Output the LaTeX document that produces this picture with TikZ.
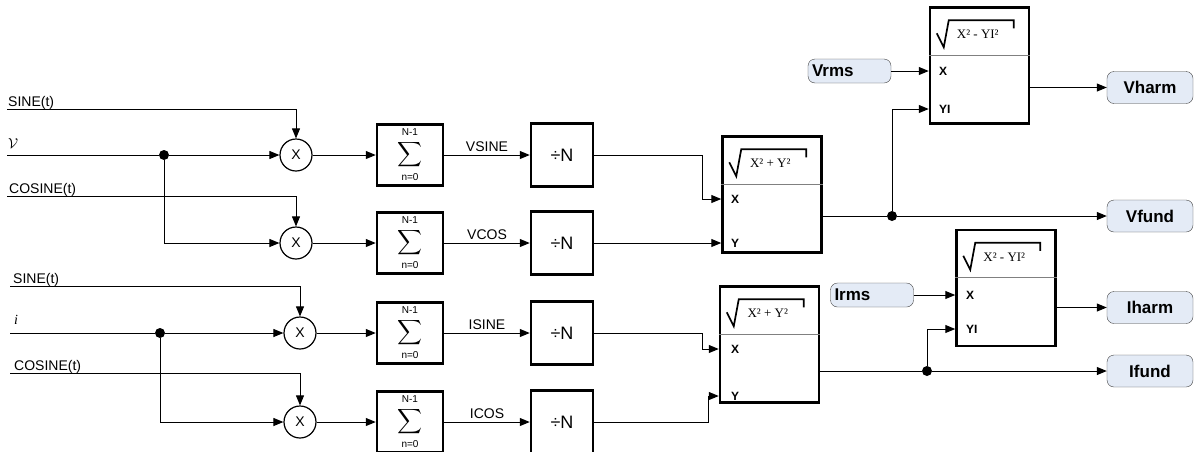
\documentclass[tikz,border=0pt]{standalone}
\usepackage{amsmath}
\usepackage{fontspec}
\setmainfont{Liberation Sans}
\newfontfamily\timesface{Liberation Serif}
\usetikzlibrary{calc, positioning, arrows.meta}
\definecolor{capfill}{HTML}{E4EBF6}
\definecolor{capline}{HTML}{404040}

% separator, radical sign and formula of a root box
\newcommand{\rootlines}[2]{%
  \draw[divider] ([yshift=-49pt]#1.north west) -- ([yshift=-49pt]#1.north east);
  \draw[radical] ($(#1.north west)+(8,27)$) -- ++(7,14) -- ++(5,-27) -- ++(65,0) -- ++(0,8);
  \node[formula] (#1f) at ($(#1.north west)+(49,28)$) {#2};}
% sum sign with its limits
\newcommand{\limtext}[1]{\text{\fontsize{10}{10}\selectfont #1}}
\newcommand{\sumsign}{$\displaystyle\sum_{\limtext{n=0}\rule{0pt}{10pt}}^{\limtext{N-1}\rule[-2.5pt]{0pt}{2.5pt}}$}

\begin{document}
\begin{tikzpicture}[x=1pt, y=-1pt,
    wire/.style={line width=1pt},
    arr/.style={wire, -{Triangle[length=10pt,width=8pt]}},
    joint/.style={circle, fill, inner sep=0pt, minimum size=10pt},
    mult/.style={circle, draw, line width=1.2pt, minimum size=32pt, inner sep=0pt, font=\fontsize{14}{14}\selectfont},
    sumbox/.style={draw, line width=2.5pt, minimum width=66pt, minimum height=61pt, inner sep=0pt, font=\fontsize{16}{16}\selectfont},
    divbox/.style={draw, line width=2.5pt, minimum width=62pt, minimum height=63pt, inner sep=0pt, font=\fontsize{18}{18}\selectfont},
    rootbox/.style={draw, line width=2.5pt, minimum width=99pt, minimum height=116pt, inner sep=0pt},
    divider/.style={line width=1.2pt, gray},
    radical/.style={line width=1.7pt},
    formula/.style={inner sep=0pt, font=\timesface\fontsize{13}{13}\selectfont},
    port/.style={anchor=west, inner sep=0pt, font=\bfseries\fontsize{12}{12}\selectfont},
    sig/.style={anchor=base west, inner sep=0pt, font=\fontsize{14}{14}\selectfont},
    wirelbl/.style={above=3pt, midway, inner sep=0pt, font=\fontsize{14}{14}\selectfont},
    outcap/.style={draw=capline, fill=capfill, rounded corners=7pt, minimum width=86pt, minimum height=32pt, font=\bfseries\fontsize{17}{17}\selectfont},
    incap/.style={draw=capline, fill=capfill, rounded corners=7pt, text width=75pt, minimum height=24pt, inner xsep=4pt, inner ysep=0pt, align=left, font=\bfseries\fontsize{17}{17}\selectfont}]
\useasboundingbox (0,0) rectangle (1195,451);

% voltage channel
\coordinate (vsin) at (7,109);
\coordinate (vin) at (7,155);
\coordinate (vcos) at (7,196);
\node[sig] (vsinlbl) at (8,106) {SINE(t)};
\node[sig] (vinlbl) at (8,148) {$\mathcal{V}$};
\node[sig] (vcoslbl) at (9,193) {COSINE(t)};
\node[joint] (vj) at (164,155) {};
\node[mult] (vm1) at (296,155) {X};
\node[mult] (vm2) at (296,243) {X};
\node[sumbox] (vs1) at (410,155) {\sumsign};
\node[sumbox] (vs2) at (410,243) {\sumsign};
\node[divbox] (vd1) at (562,155) {÷N};
\node[divbox] (vd2) at (562,243) {÷N};

\draw[arr] (vsin) -| (vm1);
\draw[wire] (vin) -- (vj);
\draw[arr] (vj) -- (vm1);
\draw[arr] (vcos) -| (vm2);
\draw[arr] (vj) |- (vm2);
\draw[arr] (vm1) -- (vs1);
\draw[arr] (vm2) -- (vs2);
\draw[arr] (vs1) -- node[wirelbl] (vsinetxt) {VSINE} (vd1);
\draw[arr] (vs2) -- node[wirelbl] (vcostxt) {VCOS} (vd2);

% current channel
\coordinate (isin) at (10,286);
\coordinate (iin) at (10,333);
\coordinate (icos) at (10,373);
\node[sig] (isinlbl) at (13,283) {SINE(t)};
\node[sig] (iinlbl) at (14,324) {\timesface\itshape i};
\node[sig] (icoslbl) at (14,370) {COSINE(t)};
\node[joint] (ij) at (160,333) {};
\node[mult] (im1) at (300,333) {X};
\node[mult] (im2) at (300,422) {X};
\node[sumbox] (is1) at (410,333) {\sumsign};
\node[sumbox] (is2) at (410,422) {\sumsign};
\node[divbox] (id1) at (562,333) {÷N};
\node[divbox] (id2) at (562,422) {÷N};

\draw[arr] (isin) -| (im1);
\draw[wire] (iin) -- (ij);
\draw[arr] (ij) -- (im1);
\draw[arr] (icos) -| (im2);
\draw[arr] (ij) |- (im2);
\draw[arr] (im1) -- (is1);
\draw[arr] (im2) -- (is2);
\draw[arr] (is1) -- node[wirelbl] (isinetxt) {ISINE} (id1);
\draw[arr] (is2) -- node[wirelbl] (icostxt) {ICOS} (id2);

% voltage magnitudes
\node[rootbox] (sq1) at (772,194.5) {};
\rootlines{sq1}{X² + Y²}
\node[port] (sq1x) at (731,199) {X};
\node[port] (sq1y) at (731,243) {Y};
\draw[arr] (vd1.east) -- ++(108,0) |- (sq1.west |- sq1x);
\draw[arr] (vd2) -- (vd2 -| sq1.west);

\node[rootbox] (sq2) at (979.5,65.5) {};
\rootlines{sq2}{X² - YI²}
\node[port] (sq2x) at (939,71) {X};
\node[port] (sq2yi) at (939,109) {YI};
\node[incap] (vrms) at (849.5,71) {Vrms};
\node[outcap] (vharm) at (1150,87.5) {Vharm};
\node[outcap] (vfund) at (1150,216) {Vfund};
\node[joint] (vfj) at (892,216) {};
\draw[wire] (sq1.east |- vfj) -- (vfj);
\draw[arr] (vfj) -- (vfund);
\draw[arr] (vfj) |- (sq2.west |- sq2yi);
\draw[arr] (vrms) -- (vrms -| sq2.west);
\draw[arr] (sq2.east |- vharm) -- (vharm);

% current magnitudes
\node[rootbox] (sq3) at (769.5,344.5) {};
\rootlines{sq3}{X² + Y²}
\node[port] (sq3x) at (731,349) {X};
\node[port] (sq3y) at (731,396) {Y};
\draw[arr] (id1.east) -- ++(108,0) |- (sq3.west |- sq3x);
\draw[arr] (id2.east) -- ++(114,0) |- (sq3.west |- sq3y);

\node[rootbox] (sq4) at (1006,288) {};
\rootlines{sq4}{X² - YI²}
\node[port] (sq4x) at (966,295) {X};
\node[port] (sq4yi) at (966,329) {YI};
\node[incap] (irms) at (872,295) {Irms};
\node[outcap] (iharm) at (1150,307.5) {Iharm};
\node[outcap] (ifund) at (1150,371) {Ifund};
\node[joint] (ifj) at (927,371) {};
\draw[wire] (sq3.east |- ifj) -- (ifj);
\draw[arr] (ifj) -- (ifund);
\draw[arr] (ifj) |- (sq4.west |- sq4yi);
\draw[arr] (irms) -- (irms -| sq4.west);
\draw[arr] (sq4.east |- iharm) -- (iharm);
\end{tikzpicture}
\end{document}
